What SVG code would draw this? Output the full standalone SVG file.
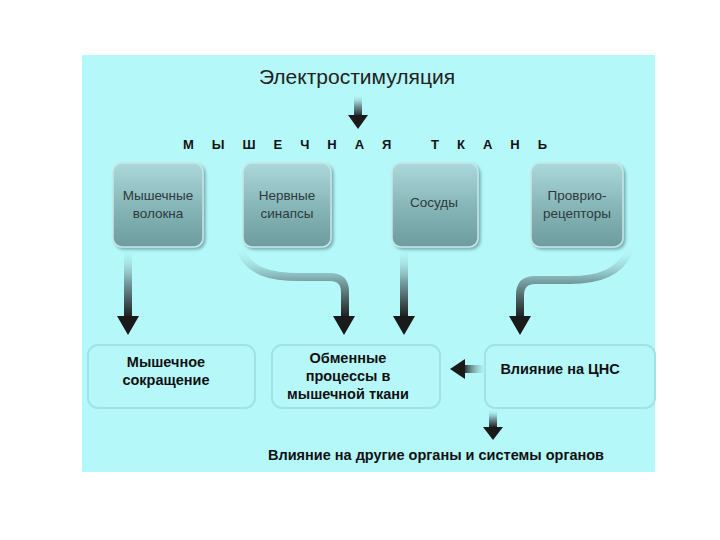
<svg xmlns="http://www.w3.org/2000/svg" width="720" height="540" viewBox="0 0 720 540">
<defs>
<linearGradient id="gBox" x1="0" y1="0" x2="0" y2="1">
<stop offset="0" stop-color="#acd8da"/>
<stop offset="0.5" stop-color="#88b7ba"/>
<stop offset="1" stop-color="#6d9c9f"/>
</linearGradient>
<linearGradient id="gArr" x1="0" y1="0" x2="0" y2="1">
<stop offset="0" stop-color="#b3f3f5" stop-opacity="0.2"/>
<stop offset="0.45" stop-color="#7aa3a6"/>
<stop offset="1" stop-color="#1a1a1a"/>
</linearGradient>
<linearGradient id="gArrH" x1="1" y1="0" x2="0" y2="0">
<stop offset="0" stop-color="#b3f3f5" stop-opacity="0.3"/>
<stop offset="1" stop-color="#1a1a1a"/>
</linearGradient>
<filter id="sh" x="-20%" y="-20%" width="140%" height="140%">
<feDropShadow dx="2" dy="2" stdDeviation="1.5" flood-color="#4d7f82" flood-opacity="0.6"/>
</filter>
</defs>
<style>
.box{fill:url(#gBox);stroke:#c6e6e7;stroke-width:1.5;filter:url(#sh)}
.bt{font-family:"Liberation Sans",Arial,sans-serif;font-size:13.5px;fill:#2e3a3b;text-anchor:middle}
.ob{fill:#b6f8fa;stroke:#9fe3e6;stroke-width:2}
.ot{font-family:"Liberation Sans",Arial,sans-serif;font-size:14.5px;font-weight:bold;fill:#111;text-anchor:middle}
.head{fill:#1a1a1a}
</style>
<rect x="0" y="0" width="720" height="540" fill="#ffffff"/>
<rect x="82" y="55" width="573" height="417" fill="#b5f8fa"/>
<text x="357" y="84" font-family="Liberation Sans,Arial,sans-serif" font-size="21" fill="#222" text-anchor="middle">Электростимуляция</text>
<text x="374" y="149" font-family="Liberation Sans,Arial,sans-serif" font-size="13" font-weight="bold" fill="#111" text-anchor="middle" letter-spacing="18">МЫШЕЧНАЯ  ТКАНЬ</text>
<g id="n1"><rect class="box" x="113" y="163" width="90" height="84" rx="9"/><text class="bt" x="158" y="200">Мышечные</text><text class="bt" x="158" y="218">волокна</text></g>
<g id="n2"><rect class="box" x="243" y="163" width="88" height="84" rx="9"/><text class="bt" x="287" y="200">Нервные</text><text class="bt" x="287" y="218">синапсы</text></g>
<g id="n3"><rect class="box" x="392" y="163" width="86" height="84" rx="9"/><text class="bt" x="434" y="207">Сосуды</text></g>
<g id="n4"><rect class="box" x="531" y="163" width="92" height="84" rx="9"/><text class="bt" x="577" y="200">Проврио-</text><text class="bt" x="577" y="218">рецепторы</text></g>
<g id="n5"><rect class="ob" x="88" y="345" width="167" height="63" rx="10"/><text class="ot" x="166" y="367">Мышечное</text><text class="ot" x="166" y="385">сокращение</text></g>
<g id="n6"><rect class="ob" x="272" y="345" width="168" height="63" rx="10"/><text class="ot" x="348" y="363">Обменные</text><text class="ot" x="348" y="381">процессы в</text><text class="ot" x="348" y="399">мышечной  ткани</text></g>
<g id="n7"><rect class="ob" x="485" y="345" width="170" height="63" rx="10"/><text class="ot" x="560" y="374">Влияние на ЦНС</text></g>
<text x="436" y="460" font-family="Liberation Sans,Arial,sans-serif" font-size="14.5" font-weight="bold" fill="#111" text-anchor="middle">Влияние на другие органы и системы органов</text>
<g id="connectors">
<rect x="354" y="95" width="8" height="22" fill="url(#gArr)"/>
<polygon class="head" points="348,115 368,115 358,129"/>
<rect x="124" y="250" width="8" height="68" fill="url(#gArr)"/>
<polygon class="head" points="117,316 139,316 128,335"/>
<path d="M240,250 C250,272 270,277 300,277 L330,277 Q345,277 345,292 L345,318" fill="none" stroke="url(#gArr)" stroke-width="8"/>
<polygon class="head" points="333,316 355,316 344,335"/>
<rect x="400" y="250" width="8" height="68" fill="url(#gArr)"/>
<polygon class="head" points="393,316 415,316 404,335"/>
<path d="M630,250 C620,272 600,280 570,280 L535,280 Q520,280 520,295 L520,318" fill="none" stroke="url(#gArr)" stroke-width="8"/>
<polygon class="head" points="509,316 531,316 520,335"/>
<rect x="463" y="365" width="22" height="8" fill="url(#gArrH)"/>
<polygon class="head" points="465,359 465,379 450,369"/>
<rect x="489" y="410" width="8" height="18" fill="url(#gArr)"/>
<polygon class="head" points="483,427 503,427 493,440"/>
</g>
</svg>
